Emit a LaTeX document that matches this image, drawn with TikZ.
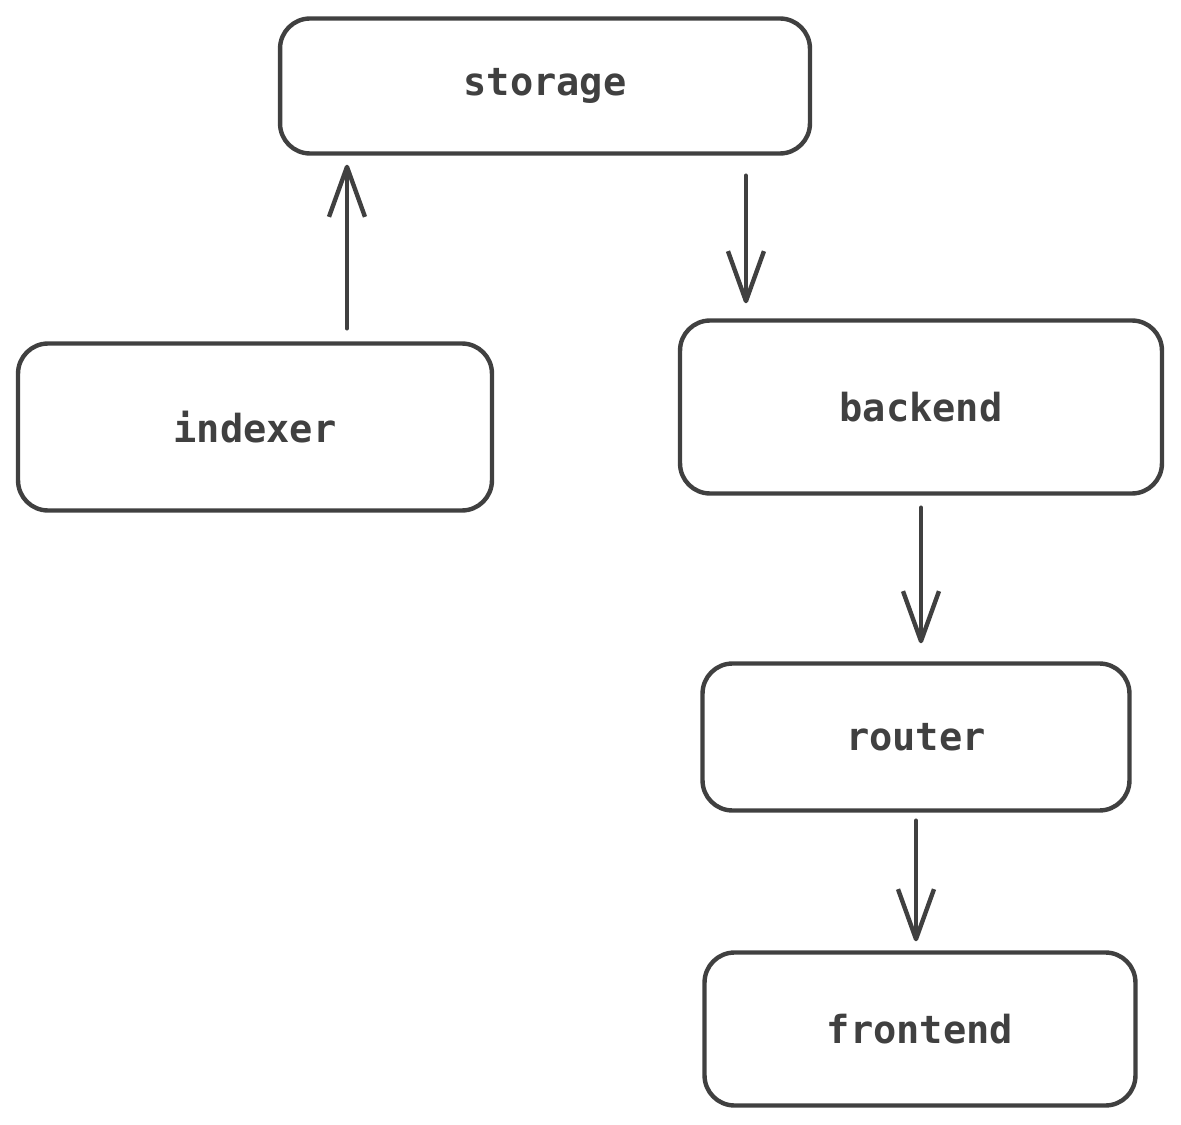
\documentclass[tikz,border=0pt]{standalone}
\usepackage{fontspec}
\setmonofont{DejaVu Sans Mono}
\usetikzlibrary{arrows.meta,positioning}
\definecolor{inkgray}{RGB}{64,64,64}

\begin{document}
\begin{tikzpicture}[x=0.02cm,y=-0.02cm,
  box/.style={draw=inkgray,line width=2.5pt,rounded corners=0.6cm,
    text=inkgray,font=\ttfamily\bfseries\fontsize{22}{26}\selectfont},
  flow/.style={draw=inkgray,line width=2.5pt,line cap=round,
    -{Straight Barb[length=1cm,width=0.72cm,line join=round]}}]
  \useasboundingbox (0,0) rectangle (1181,1125);
  \node[box,minimum width=10.6cm,minimum height=2.7cm] (storage) at (545,86) {storage};
  \node[box,minimum width=9.48cm,minimum height=3.34cm] (indexer) at (255,427) {indexer};
  \node[box,minimum width=9.64cm,minimum height=3.46cm] (backend) at (921,407) {backend};
  \node[box,minimum width=8.54cm,minimum height=2.94cm] (router) at (916,737) {router};
  \node[box,minimum width=8.62cm,minimum height=3.06cm] (frontend) at (920,1029) {frontend};
  % connectors
  \coordinate (up) at ([xshift=1.84cm]indexer.north);
  \coordinate (down) at ([xshift=4.02cm]storage.south);
  \draw[flow,shorten <=0.26cm,shorten >=0.18cm] (up) -- (up |- storage.south);
  \draw[flow,shorten <=0.4cm,shorten >=0.3cm] (down) -- (down |- backend.north);
  \draw[flow,shorten <=0.24cm,shorten >=0.36cm] (backend.south) -- (backend.south |- router.north);
  \draw[flow,shorten <=0.16cm,shorten >=0.18cm] (router.south) -- (router.south |- frontend.north);
\end{tikzpicture}
\end{document}
